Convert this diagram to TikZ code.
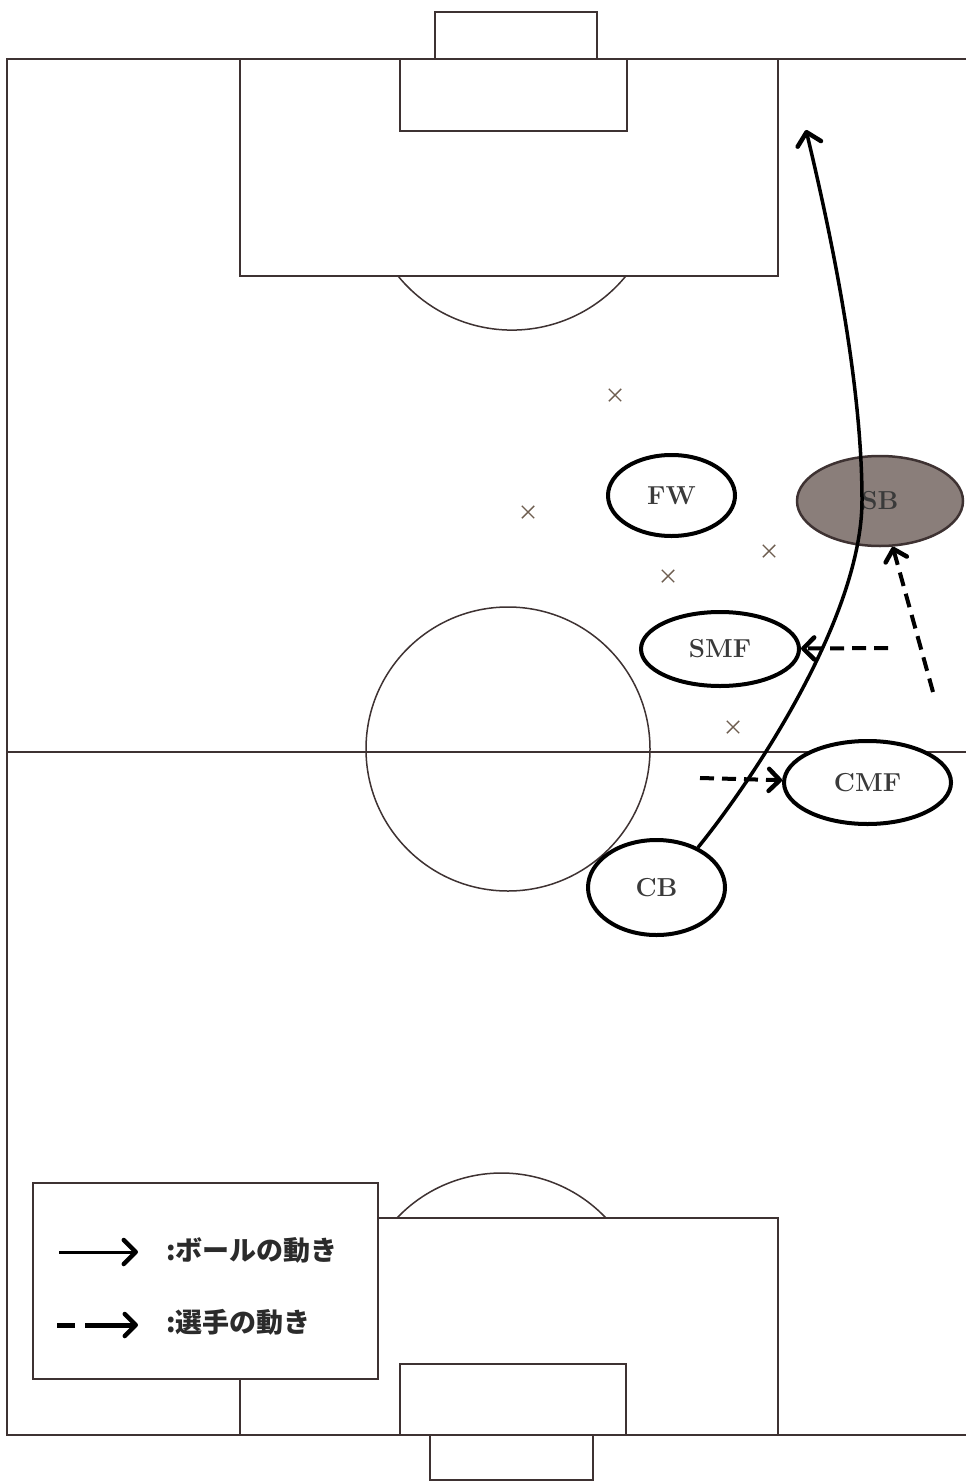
\documentclass[tikz,border=0pt]{standalone}
\usepackage{fontspec}
\newfontfamily\jpfont{Noto Sans CJK JP}
\usetikzlibrary{shapes.geometric,shapes.misc,arrows.meta}
\definecolor{fieldline}{HTML}{3E3232}
\definecolor{sbfill}{HTML}{8A7E7A}
\definecolor{labelgray}{HTML}{3A3A3A}
\definecolor{crossc}{HTML}{6E5E50}
\definecolor{legendtext}{HTML}{2B2B2B}
\begin{document}
\begin{tikzpicture}[x=1pt,y=-1pt,
  field/.style={draw=fieldline, line width=1.5pt},
  fieldthick/.style={draw=fieldline, line width=2.2pt},
  border/.style={draw=fieldline, line width=2.6pt},
  player/.style={ellipse, draw=black, line width=4pt, fill=white, inner sep=0pt,
    font=\fontsize{26}{26}\selectfont\bfseries, text=labelgray},
  ball/.style={draw=black, line width=3.5pt,
    -{Straight Barb[length=12pt,width=24pt,line width=4.5pt,round]}},
  run/.style={draw=black, line width=4pt, dash pattern=on 14pt off 8pt,
    -{Straight Barb[length=11pt,width=22pt,line width=4.5pt,round]}},
  cross/.style={cross out, draw=crossc, line width=1.4pt, minimum size=11pt, inner sep=0pt},
  legendbox/.style={draw=fieldline, line width=2.2pt, fill=white},
  legendtxt/.style={anchor=west, inner sep=0pt, text=legendtext,
    font=\jpfont\fontsize{27}{27}\selectfont\bfseries},
]
\useasboundingbox (0,0) rectangle (966,1482);
\fill[white] (0,0) rectangle (966,1482);

% ---- top half of the pitch
\draw[field] (435,59) -- (435,12) -- (597,12) -- (597,59);
\draw[field] (240,59) -- (240,276) -- (778,276) -- (778,59);
\draw[fieldthick] (400,59) -- (400,131) -- (627,131) -- (627,59);
\draw[field] (398,276) arc[start angle=140.8, end angle=39.2, radius=147];

% ---- outline and halfway line
\draw[border] (966,59) -- (7,59) -- (7,1435) -- (966,1435);
\draw[field] (7,752) -- (966,752);
\draw[field] (508,749) circle[radius=142];

% ---- bottom half of the pitch
\draw[field] (240,1435) -- (240,1218) -- (778,1218) -- (778,1435);
\draw[fieldthick] (400,1435) -- (400,1364) -- (626,1364) -- (626,1435);
\draw[field] (430,1435) -- (430,1480) -- (593,1480) -- (593,1435);
\draw[field] (397,1218) arc[start angle=223.4, end angle=316.6, radius=143.8];

% ---- opponents
\node[cross] (x1) at (615,395) {};
\node[cross] (x2) at (528,512) {};
\node[cross] (x3) at (769,551) {};
\node[cross] (x4) at (668,576) {};
\node[cross] (x5) at (733,727) {};

% ---- players
\node[player, minimum width=127pt, minimum height=81pt] (fw) at (671.5,495.5) {FW};
\node[player, minimum width=166pt, minimum height=90pt, fill=sbfill, line width=2.5pt,
      draw=fieldline] (sb) at (880,501) {SB};
\node[player, minimum width=158pt, minimum height=74pt] (smf) at (720,649) {SMF};
\node[player, minimum width=167pt, minimum height=83pt] (cmf) at (867.5,782.5) {CMF};
\node[player, minimum width=137pt, minimum height=95pt] (cb) at (656.5,887.5) {CB};

% ---- ball movement
\coordinate (bend) at (862,500);
\coordinate (ballend) at (806,130);
\draw[ball] (cb.44) .. controls (748,786) and (862,620) .. (bend)
  .. controls (862,380) and (830,230) .. (ballend);

% ---- player movements
\coordinate (r1) at (933,692);
\coordinate (r2) at (888,648);
\coordinate (r3) at (700,778);
\draw[run] (r1) -- (sb);
\draw[run] (r2) -- (smf);
\draw[run] (r3) -- (cmf);

% ---- legend
\node[legendbox, minimum width=345pt, minimum height=196pt, inner sep=0pt] (legend) at (205.5,1281) {};
\coordinate (l1a) at (59,1252);
\coordinate (l1b) at (138,1252);
\coordinate (l2a) at (57,1325);
\coordinate (l2b) at (138,1325);
\draw[ball, line width=3pt] (l1a) -- (l1b);
\draw[run, line width=5pt, dash pattern=on 18pt off 10pt on 80pt off 10pt] (l2a) -- (l2b);
\node[legendtxt] (t1) at (166,1250) {:ボールの動き};
\node[legendtxt] (t2) at (166,1322) {:選手の動き};
\end{tikzpicture}
\end{document}
